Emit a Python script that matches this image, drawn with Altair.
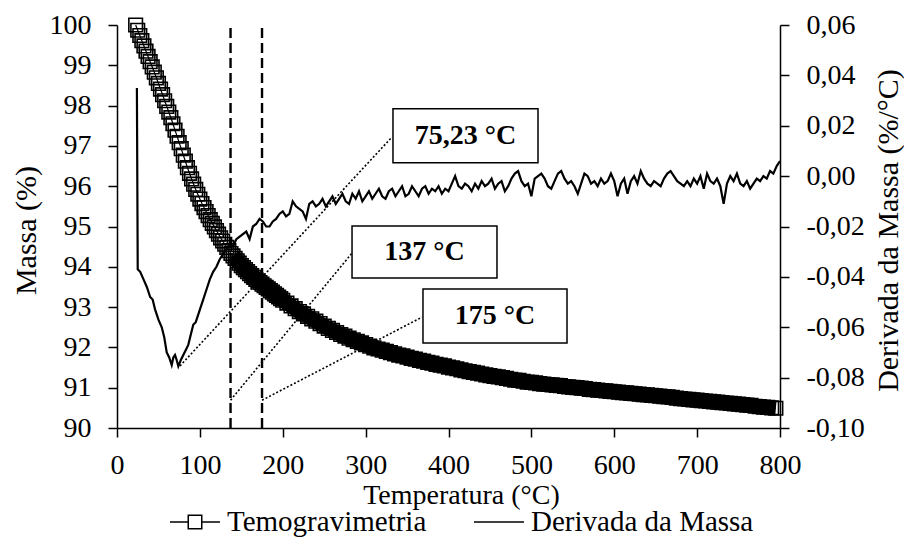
import altair as alt
import pandas as pd
import numpy as np

FONT = "Liberation Serif"

# ---------------- data ----------------
series_names = ["Temogravimetria", "Derivada da Massa"]

# Thermogravimetry (mass %) – sampled every 2.5 °C up to 200 °C, then every 5 °C
tg_temp_a = list(np.arange(22.5, 200.01, 2.5))
tg_mass_a = [
    100.00, 99.87, 99.74, 99.61, 99.48, 99.35, 99.22, 99.09,
    98.96, 98.83, 98.69, 98.55, 98.41, 98.27, 98.12, 97.98,
    97.84, 97.70, 97.55, 97.39, 97.24, 97.08, 96.93, 96.77,
    96.62, 96.46, 96.32, 96.18, 96.05, 95.92, 95.80, 95.68,
    95.57, 95.47, 95.37, 95.27, 95.17, 95.08, 94.99, 94.90,
    94.81, 94.72, 94.64, 94.56, 94.48, 94.40, 94.33, 94.27,
    94.21, 94.15, 94.09, 94.03, 93.98, 93.93, 93.88, 93.83,
    93.78, 93.74, 93.69, 93.65, 93.61, 93.57, 93.53, 93.49,
    93.45, 93.41, 93.37, 93.33, 93.29, 93.25, 93.21, 93.17,
]
tg_temp_b = list(range(205, 796, 5))
tg_mass_b = [
    93.10, 93.03, 92.96, 92.89, 92.83, 92.77, 92.71, 92.65, 92.59, 92.53,
    92.47, 92.42, 92.37, 92.32, 92.28, 92.23, 92.19, 92.15, 92.11, 92.07,
    92.03, 91.99, 91.96, 91.93, 91.90, 91.87, 91.84, 91.81, 91.79, 91.76,
    91.73, 91.71, 91.68, 91.66, 91.63, 91.61, 91.58, 91.56, 91.54, 91.51,
    91.49, 91.47, 91.44, 91.42, 91.40, 91.38, 91.36, 91.34, 91.32, 91.30,
    91.28, 91.27, 91.25, 91.23, 91.21, 91.19, 91.18, 91.16, 91.14, 91.13,
    91.12, 91.10, 91.09, 91.08, 91.07, 91.06, 91.05, 91.03, 91.02, 91.01,
    91.00, 90.99, 90.98, 90.96, 90.95, 90.94, 90.93, 90.92, 90.91, 90.90,
    90.89, 90.88, 90.87, 90.86, 90.85, 90.84, 90.83, 90.82, 90.81, 90.80,
    90.79, 90.78, 90.77, 90.76, 90.74, 90.73, 90.72, 90.71, 90.70, 90.69,
    90.68, 90.67, 90.66, 90.65, 90.64, 90.63, 90.62, 90.61, 90.60, 90.59,
    90.58, 90.57, 90.56, 90.54, 90.53, 90.52, 90.51, 90.50, 90.49,
]

# Derivative of mass (%/°C)
dtg_temp_a = [24, 25, 28, 32, 36, 40, 43, 46, 50, 54, 57, 60, 63, 66, 68, 70,
              72, 74, 77, 80, 83, 86, 89, 92, 95, 98, 100]
dtg_val_a = [0.035, -0.037, -0.038, -0.041, -0.044, -0.048, -0.049, -0.053,
             -0.057, -0.060, -0.064, -0.070, -0.072, -0.075, -0.072, -0.071,
             -0.073, -0.0755, -0.073, -0.071, -0.069, -0.067, -0.063, -0.059,
             -0.058, -0.055, -0.053]
dtg_temp_b = list(range(104, 801, 4))
dtg_val_b = [
    -0.049, -0.045, -0.041, -0.038, -0.036, -0.033, -0.031, -0.029, -0.027, -0.028,
    -0.025, -0.024, -0.023, -0.022, -0.025, -0.020, -0.019, -0.017, -0.018, -0.020,
    -0.020, -0.018, -0.017, -0.015, -0.014, -0.016, -0.015, -0.010, -0.012, -0.013,
    -0.014, -0.017, -0.011, -0.010, -0.012, -0.011, -0.009, -0.012, -0.010, -0.008,
    -0.011, -0.009, -0.007, -0.010, -0.011, -0.007, -0.009, -0.006, -0.010, -0.008,
    -0.006, -0.009, -0.007, -0.005, -0.008, -0.009, -0.006, -0.005, -0.008, -0.006,
    -0.004, -0.008, -0.007, -0.004, -0.006, -0.008, -0.005, -0.004, -0.007, -0.005,
    -0.006, -0.004, -0.007, -0.005, -0.006, -0.003, 0.000, -0.004, -0.005, -0.003,
    -0.004, -0.006, -0.003, -0.005, -0.002, -0.004, -0.003, -0.001, -0.005, -0.003,
    -0.002, -0.006, -0.004, -0.001, 0.001, 0.002, -0.002, -0.004, -0.003, -0.008,
    -0.001, 0.000, 0.001, -0.001, -0.004, -0.005, -0.002, 0.001, 0.002, -0.001,
    -0.003, -0.002, -0.004, -0.007, -0.003, 0.001, 0.000, -0.003, -0.002, -0.004,
    -0.001, -0.003, -0.002, 0.001, -0.002, -0.008, -0.003, -0.001, -0.007, -0.002,
    0.000, -0.003, 0.002, -0.001, -0.003, -0.004, -0.002, -0.003, -0.004, -0.001,
    0.001, 0.002, 0.000, -0.002, -0.003, -0.004, -0.002, -0.004, -0.001, -0.003,
    0.000, -0.005, 0.001, -0.002, -0.003, -0.001, -0.004, -0.011, -0.003, 0.000,
    -0.002, 0.001, -0.003, -0.004, -0.002, -0.005, -0.003, -0.001, -0.002, 0.000,
    -0.001, 0.002, 0.001, 0.004, 0.006,
]

# Annotations
vline_temp = [137, 175]
note_labels = ["75,23 °C", "137 °C", "175 °C"]
note_box_t1 = [333.0, 283.6, 369.2]
note_box_t2 = [508.0, 458.5, 543.0]
note_box_m1 = [97.92, 95.01, 93.45]
note_box_m2 = [96.58, 93.72, 92.11]
leader_t1 = [76.0, 137.0, 175.0]
leader_m1 = [91.54, 90.69, 90.69]
leader_t2 = [331.8, 283.6, 368.0]
leader_m2 = [97.22, 94.34, 92.75]

# ---------------- frames ----------------
tg_df = pd.DataFrame({"T": tg_temp_a + tg_temp_b, "mass": tg_mass_a + tg_mass_b})
dtg_df = pd.DataFrame({"T": dtg_temp_a + dtg_temp_b, "deriv": dtg_val_a + dtg_val_b})
vline_df = pd.DataFrame({"T": vline_temp, "mass": [90] * len(vline_temp), "mass2": [100] * len(vline_temp)})
box_df = pd.DataFrame({"T": note_box_t1, "T2": note_box_t2, "mass": note_box_m1, "mass2": note_box_m2,
                       "label": note_labels})
box_df["Tc"] = (box_df["T"] + box_df["T2"]) / 2
box_df["mc"] = (box_df["mass"] + box_df["mass2"]) / 2
leader_df = pd.DataFrame({"T": leader_t1, "mass": leader_m1, "T2": leader_t2, "mass2": leader_m2})
legend_df = pd.DataFrame({"serie": series_names})

xscale = alt.Scale(domain=[0, 800], nice=False, zero=False)
yscale = alt.Scale(domain=[90, 100], nice=False, zero=False)
y2scale = alt.Scale(domain=[-0.10, 0.06], nice=False, zero=False)

x_enc = alt.X("T:Q", scale=xscale, axis=alt.Axis(
    values=list(range(0, 801, 100)), title="Temperatura (°C)", titleFontSize=28,
    titleX=344, titleY=67, titleBaseline="middle", titleAlign="center",
    labelPadding=14, labelFlush=False, labelOverlap=False))
y_enc = alt.Y("mass:Q", scale=yscale, axis=alt.Axis(
    values=list(range(90, 101, 1)), title="Massa (%)",
    titleX=-91, titleY=205, titleAngle=270, titleBaseline="middle", titleAlign="center",
    labelPadding=17, labelFlush=False, labelOverlap=False))

xs = alt.X("T:Q", scale=xscale)
ys = alt.Y("mass:Q", scale=yscale)

tg_line = alt.Chart(tg_df).mark_line(color="black", strokeWidth=1.2).encode(x=x_enc, y=y_enc)
tg_band = alt.Chart(tg_df).transform_filter(alt.datum.T >= 140).mark_line(
    color="black", strokeWidth=15).encode(x=xs, y=ys)
tg_pts = alt.Chart(tg_df).mark_point(shape="square", filled=False, color="black",
                                     strokeWidth=1.6, size=185, opacity=1).encode(x=xs, y=ys)

vlines = alt.Chart(vline_df).mark_rule(color="black", strokeWidth=2.4, strokeDash=[10, 5]).encode(
    x=xs, y=ys, y2="mass2:Q")
leaders = alt.Chart(leader_df).mark_rule(color="black", strokeWidth=1.6, strokeDash=[2, 2]).encode(
    x=xs, y=ys, x2="T2:Q", y2="mass2:Q")
boxes = alt.Chart(box_df).mark_rect(fill="white", stroke="black", strokeWidth=1.5).encode(
    x=xs, x2="T2:Q", y=ys, y2="mass2:Q")
texts = alt.Chart(box_df).mark_text(font=FONT, fontSize=28, fontWeight="bold", color="black",
                                    align="center", baseline="middle").encode(
    x=alt.X("Tc:Q", scale=xscale), y=alt.Y("mc:Q", scale=yscale), text="label:N")

legend_path = "M-1,0H-0.27M0.27,0H1M-0.27,-0.27H0.27V0.27H-0.27Z"
legend_layer = alt.Chart(legend_df).mark_point(filled=False, opacity=0, color="black", strokeWidth=1.5).encode(
    x=alt.value(0), y=alt.value(0),
    shape=alt.Shape("serie:N", scale=alt.Scale(domain=series_names, range=[legend_path, "stroke"]),
                    legend=alt.Legend(title=None, orient="none", legendX=52, legendY=471,
                                      direction="horizontal", labelFont=FONT, labelFontSize=29,
                                      labelColor="black", labelLimit=0, symbolSize=2500,
                                      symbolStrokeWidth=1.5,
                                      symbolStrokeColor="black", symbolOpacity=1, labelOffset=6,
                                      columnPadding=44, padding=0)))

left = alt.layer(tg_line, tg_band, tg_pts, vlines, leaders, boxes, texts, legend_layer)

dtg_line = alt.Chart(dtg_df).mark_line(color="black", strokeWidth=2.2).encode(
    x=xs,
    y=alt.Y("deriv:Q", scale=y2scale, axis=alt.Axis(
        orient="right", values=[-0.10, -0.08, -0.06, -0.04, -0.02, 0.0, 0.02, 0.04, 0.06],
        title="Derivada da Massa (%/°C)",
        labelExpr="(datum.value < -0.0001 ? '-' : '') + replace(format(abs(datum.value), '.2f'), '.', ',')",
        titleX=108, titleY=205, titleAngle=270, titleBaseline="middle", titleAlign="center",
        labelPadding=17, labelFlush=False, labelOverlap=False)))

chart = alt.layer(left, dtg_line).resolve_scale(y="independent").properties(
    width=663, height=403,
    autosize=alt.AutoSizeParams(type="none"),
    padding={"left": 117, "top": 25, "right": 124, "bottom": 109},
    background="white",
).configure_view(stroke=None).configure_axis(
    labelFont=FONT, labelFontSize=28, labelColor="black",
    titleFont=FONT, titleFontSize=30, titleFontWeight="normal", titleColor="black",
    tickColor="black", tickSize=9, tickWidth=1.5,
    domainColor="black", domainWidth=1.5, grid=False,
)

chart.save("out.html", embed_options={"renderer": "svg", "actions": False})
